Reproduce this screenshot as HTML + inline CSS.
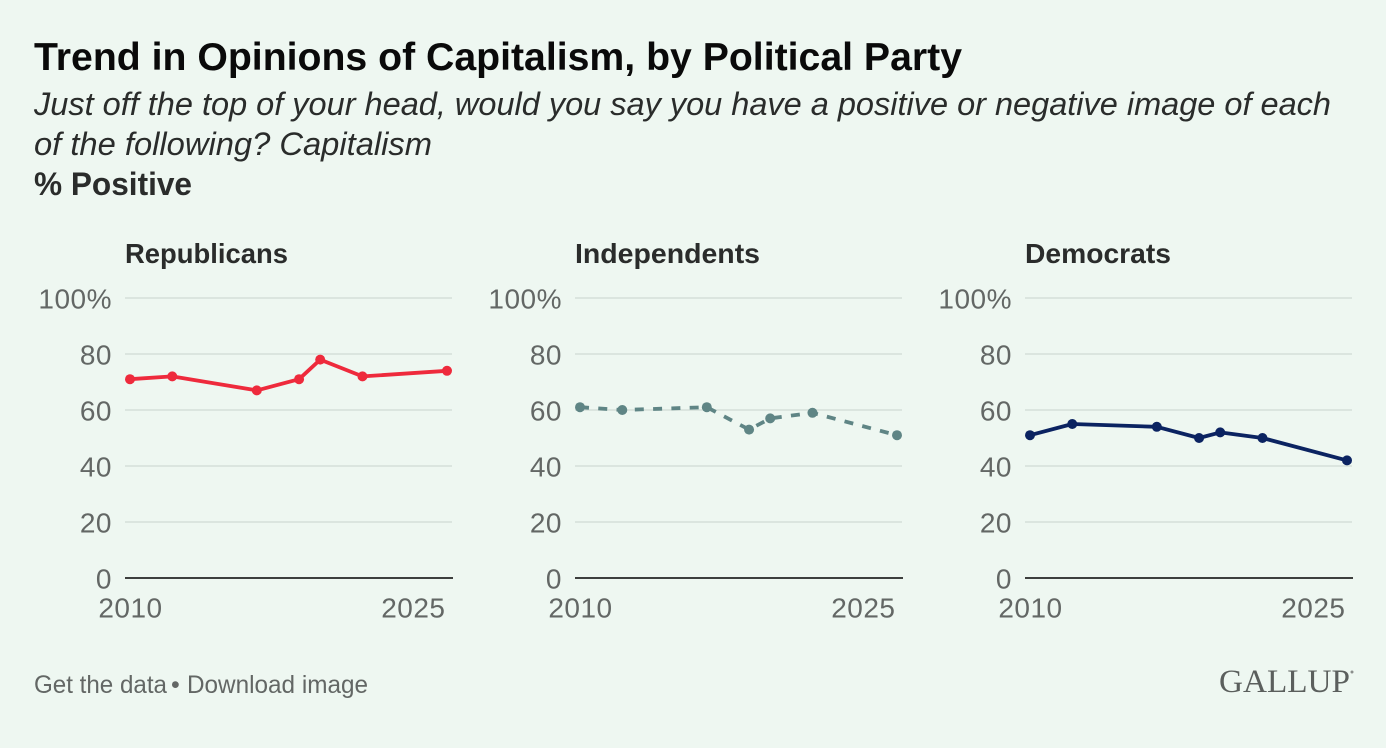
<!DOCTYPE html>
<html lang="en">
<head>
<meta charset="utf-8">
<title>Trend in Opinions of Capitalism, by Political Party</title>
<style>
html,body{margin:0;padding:0;width:1386px;height:748px;overflow:hidden;background:#eef7f1;}
svg{display:block;font-family:"Liberation Sans",sans-serif;}
.tick{font-size:28px;fill:#636765;letter-spacing:.5px;}
.panel-title{font-size:28px;font-weight:bold;fill:#2a2c2b;}
.foot{font-size:25px;fill:#636765;}
</style>
</head>
<body>
<svg id="chart" width="1386" height="748" viewBox="0 0 1386 748" xmlns="http://www.w3.org/2000/svg">
  <rect width="1386" height="748" fill="#eef7f1"/>
  <text x="34" y="70" font-size="39" font-weight="bold" fill="#0a0a0a" textLength="928" lengthAdjust="spacingAndGlyphs">Trend in Opinions of Capitalism, by Political Party</text>
  <text x="34" y="115" font-size="32" font-style="italic" fill="#2a2c2b" textLength="1297" lengthAdjust="spacingAndGlyphs">Just off the top of your head, would you say you have a positive or negative image of each</text>
  <text x="34" y="155" font-size="32" font-style="italic" fill="#2a2c2b" textLength="398" lengthAdjust="spacingAndGlyphs">of the following? Capitalism</text>
  <text x="34" y="195" font-size="32" font-weight="bold" fill="#2a2c2b" textLength="158" lengthAdjust="spacingAndGlyphs">% Positive</text>
  <g id="panels"></g>
  <text class="foot" x="34" y="693" textLength="133" lengthAdjust="spacingAndGlyphs">Get the data</text>
  <text class="foot" x="171" y="693">•</text>
  <text class="foot" x="187" y="693" textLength="181" lengthAdjust="spacingAndGlyphs">Download image</text>
  <text x="1219" y="692" font-family="'Liberation Serif',serif" font-size="33" fill="#5b5f5d" textLength="131" lengthAdjust="spacingAndGlyphs">GALLUP</text>
  <circle cx="1352" cy="672" r="1.5" fill="#8a8e8c"/>
</svg>
<script>
const years = [2010, 2012, 2016, 2018, 2019, 2021, 2025];
const republicans = [71, 72, 67, 71, 78, 72, 74];
const independents = [61, 60, 61, 53, 57, 59, 51];
const democrats = [51, 55, 54, 50, 52, 50, 42];
const yTicks = [0, 20, 40, 60, 80, 100];
const xTicks = [2010, 2025];

const NS = 'http://www.w3.org/2000/svg';
const root = document.getElementById('panels');

function yPos(v) { return 578 - v * 2.8; }
function xPos(year, left) { return left + 5 + (year - 2010) * (317 / 15); }
function make(tag, attrs, parent, text) {
  const el = document.createElementNS(NS, tag);
  Object.keys(attrs).forEach(function (k) { el.setAttribute(k, attrs[k]); });
  if (text !== undefined) el.textContent = text;
  parent.appendChild(el);
  return el;
}

function drawPanel(key, title, titleWidth, values, left, color, dash) {
  const g = make('g', {}, root);
  
  

  const head = make('text', { x: left, y: 263, class: 'panel-title', textLength: titleWidth, lengthAdjust: 'spacingAndGlyphs' }, g, title);
  
  

  yTicks.forEach(function (t) {
    if (t > 0) {
      const grid = make('line', { x1: left, x2: left + 327, y1: yPos(t), y2: yPos(t), stroke: '#dbe5df', 'stroke-width': 2 }, g);
      
      
    }
    const label = make('text', { x: left - 13, y: yPos(t) + 10.5, 'text-anchor': 'end', class: 'tick' }, g, t === 100 ? '100%' : String(t));
    
    
  });

  const axis = make('line', { x1: left, x2: left + 328, y1: yPos(0), y2: yPos(0), stroke: '#3d3f3e', 'stroke-width': 2 }, g);
  
  

  xTicks.forEach(function (yr, i) {
    const anchor = i === 0 ? 'middle' : 'end';
    const nudge = i === 0 ? 0.5 : -1.5;
    const label = make('text', { x: xPos(yr, left) + nudge, y: 617.5, 'text-anchor': anchor, class: 'tick' }, g, String(yr));
    
    
  });

  const pts = values.map(function (v, i) { return xPos(years[i], left) + ',' + yPos(v); }).join(' ');
  const attrs = { points: pts, fill: 'none', stroke: color, 'stroke-width': 3.8, 'stroke-linejoin': 'round' };
  if (dash) attrs['stroke-dasharray'] = dash;
  const line = make('polyline', attrs, g);
  
  

  values.forEach(function (v, i) {
    const dot = make('circle', { cx: xPos(years[i], left), cy: yPos(v), r: 5, fill: color }, g);
    
    
  });
}

drawPanel('republicans', 'Republicans', 163, republicans, 125, '#ee2a3c', null);
drawPanel('independents', 'Independents', 185, independents, 575, '#5f8585', '9 9.3');
drawPanel('democrats', 'Democrats', 146, democrats, 1025, '#0b2361', null);
</script>
</body>
</html>
